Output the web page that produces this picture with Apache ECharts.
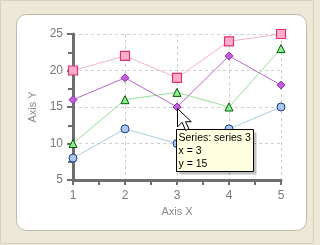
<!DOCTYPE html>
<html>
<head>
<meta charset="utf-8">
<script src="https://cdn.jsdelivr.net/npm/echarts@6/dist/echarts.min.js"></script>
<style>
html,body{margin:0;padding:0;background:#ece9d8;}
#c{width:320px;height:245px;}
</style>
</head>
<body>
<div id="c"></div>
<script>
var xValues = [1, 2, 3, 4, 5];
var series1 = [8, 12, 10, 12, 15];
var series2 = [10, 16, 17, 15, 23];
var series3 = [16, 19, 15, 22, 18];
var series4 = [20, 22, 19, 24, 25];
var seriesNames = ['series 1', 'series 2', 'series 3', 'series 4'];
var tipSeries = 2, tipIndex = 2;

function pairs(ys){ return xValues.map(function(x,i){ return [x, ys[i]]; }); }

var chart = echarts.init(document.getElementById('c'), null, {renderer:'canvas'});
var FONT = 'Liberation Sans';
var axisCol = '#6e6e6e';

var option = {
  animation:false,
  backgroundColor:'#ece9d8',
  grid:{left:73, right:39, top:34, bottom:65},
  xAxis:{
    type:'value', min:1, max:5, interval:1,
    name:'Axis X', nameLocation:'middle', nameGap:25,
    nameTextStyle:{color:'#8a8a8a', fontFamily:FONT, fontSize:11},
    axisLine:{show:true, onZero:false, lineStyle:{color:axisCol, width:3}},
    axisTick:{show:true, length:5, lineStyle:{color:axisCol, width:2}},
    minorTick:{show:true, splitNumber:2, length:5, lineStyle:{color:axisCol, width:2}},
    axisLabel:{color:'#7a7a7a', fontFamily:FONT, fontSize:12, margin:10},
    splitLine:{show:true, lineStyle:{color:'#cfcfcf', type:[3,3], width:1}}
  },
  yAxis:{
    type:'value', min:5, max:25, interval:5,
    name:'Axis Y', nameLocation:'middle', nameGap:28,
    nameTextStyle:{color:'#8a8a8a', fontFamily:FONT, fontSize:11},
    axisLine:{show:true, onZero:false, lineStyle:{color:axisCol, width:3}},
    axisTick:{show:true, length:6, lineStyle:{color:axisCol, width:2}},
    minorTick:{show:true, splitNumber:2, length:5, lineStyle:{color:axisCol, width:2}},
    axisLabel:{color:'#7a7a7a', fontFamily:FONT, fontSize:12, margin:10},
    splitLine:{show:true, lineStyle:{color:'#cfcfcf', type:[3,3], width:1}}
  },
  series:[
    {name:seriesNames[0], type:'line', data:pairs(series1), symbol:'circle', symbolSize:8,
     lineStyle:{color:'#a9cde0', width:1}, itemStyle:{color:'#aac8f0', borderColor:'#1a3a8a', borderWidth:1}},
    {name:seriesNames[1], type:'line', data:pairs(series2), symbol:'triangle', symbolSize:8,
     lineStyle:{color:'#98e098', width:1}, itemStyle:{color:'#90ee90', borderColor:'#006000', borderWidth:1}},
    {name:seriesNames[2], type:'line', data:pairs(series3), symbol:'diamond', symbolSize:8,
     lineStyle:{color:'#b868cc', width:1}, itemStyle:{color:'#c060d8', borderColor:'#9030b0', borderWidth:1}},
    {name:seriesNames[3], type:'line', data:pairs(series4), symbol:'rect', symbolSize:9,
     lineStyle:{color:'#f4b4c8', width:1}, itemStyle:{color:'#ffb0c8', borderColor:'#e0307a', borderWidth:1.2}}
  ]
};
chart.setOption(option);

var tipVals = [series1, series2, series3, series4][tipSeries];
var p = chart.convertToPixel({gridIndex:0}, [xValues[tipIndex], tipVals[tipIndex]]);
var bx = Math.round(p[0]) - 1 + 0.5, by = Math.round(p[1]) + 22 + 0.5;
var s = 1.15;
var arrow = [[0,0],[0,16],[4,12],[7,19],[10,18],[7,11.5],[12,11.5]].map(function(q){ return [Math.round(p[0]) + 0.5 + q[0]*s, Math.round(p[1]) + 1.5 + q[1]*s]; });
chart.setOption({graphic:[
  {id:'outer', type:'rect', z:-10, silent:true, shape:{x:0.5,y:0.5,width:313,height:243},
   style:{fill:'#ece9d8', stroke:'#d6d2bf', lineWidth:1}},
  {id:'panel', type:'rect', z:-9, silent:true, shape:{x:16.5,y:14.5,width:290,height:216,r:10},
   style:{fill:'#ffffff', stroke:'#bdbaa8', lineWidth:1}},
  {id:'tipShadow', type:'rect', z:100, silent:true, shape:{x:bx+3,y:by+3,width:77,height:42}, style:{fill:'rgba(0,0,0,0.25)'}},
  {id:'tipBox', type:'rect', z:101, silent:true, shape:{x:bx,y:by,width:77,height:42}, style:{fill:'#ffffe1', stroke:'#000', lineWidth:1}},
  {id:'tipText', type:'text', z:102, silent:true, x:bx+2, y:by+2.5,
   style:{text:'Series: ' + seriesNames[tipSeries] + '\nx = ' + xValues[tipIndex] + '\ny = ' + tipVals[tipIndex],
          fill:'#000', font:'10.5px "Liberation Sans"', lineHeight:12.8}},
  {id:'cursor', type:'polygon', z:103, silent:true, shape:{points:arrow}, style:{fill:'#fff', stroke:'#000', lineWidth:1}}
]});
</script>
</body>
</html>
